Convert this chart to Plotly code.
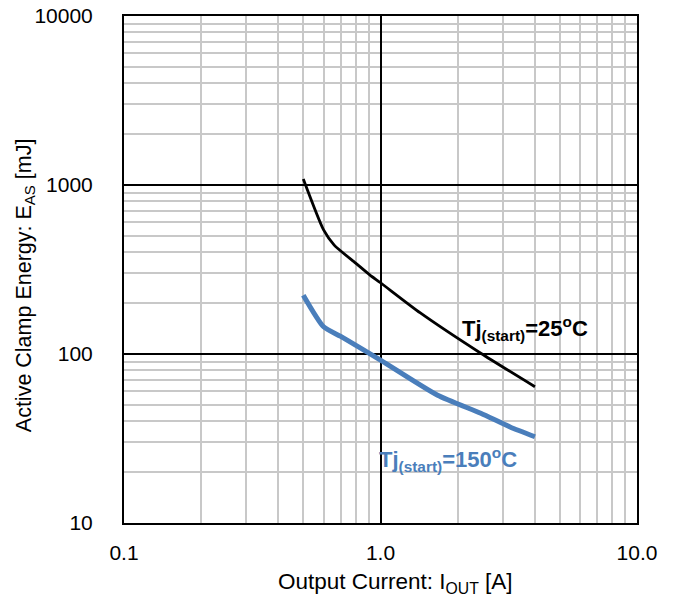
import plotly.graph_objects as go

# Data
current_25 = [0.5, 0.6, 0.66, 0.8, 0.91, 1.0, 1.43, 2.46, 4.0]
energy_25 = [1085, 542, 441, 345, 293, 264, 175, 101, 64]

current_150 = [0.5, 0.6, 0.7, 1.0, 1.67, 2.46, 3.2, 4.0]
energy_150 = [223, 145, 127, 92, 57, 44.6, 37, 32.4]

x_tickvals = [0.1, 1, 10]
x_ticktext = ["0.1", "1.0", "10.0"]
y_tickvals = [10, 100, 1000, 10000]
y_ticktext = ["10", "100", "1000", "10000"]

FONT = "Liberation Sans"
BLUE = "#4a7ebb"

fig = go.Figure()
fig.add_trace(go.Scatter(x=current_25, y=energy_25, mode="lines",
                         line=dict(color="black", width=2.8, shape="spline", smoothing=0.6),
                         showlegend=False))
fig.add_trace(go.Scatter(x=current_150, y=energy_150, mode="lines",
                         line=dict(color=BLUE, width=5, shape="spline", smoothing=0.6),
                         showlegend=False))

fig.add_annotation(x=0.31, y=2.148, xref="x", yref="y", xanchor="left", yanchor="middle",
                   text="<b>Tj<sub>(start)</sub>=25<sup>o</sup>C</b>", showarrow=False,
                   font=dict(family=FONT, size=22, color="black"))
fig.add_annotation(x=-0.015, y=1.373, xref="x", yref="y", xanchor="left", yanchor="middle",
                   text="<b>Tj<sub>(start)</sub>=150<sup>o</sup>C</b>", showarrow=False,
                   font=dict(family=FONT, size=22, color=BLUE))

# Axis titles
fig.add_annotation(x=0.530, y=-0.118, xref="paper", yref="paper", xanchor="center", yanchor="middle",
                   text="Output Current: I<sub>OUT</sub> [A]", showarrow=False,
                   font=dict(family=FONT, size=22.5, color="black"))
fig.add_annotation(x=-0.193, y=0.469, xref="paper", yref="paper", xanchor="center", yanchor="middle",
                   text="Active Clamp Energy: E<sub>AS</sub> [mJ]", showarrow=False, textangle=-90,
                   font=dict(family=FONT, size=21.5, color="black"))

axis_common = dict(
    type="log", automargin=False,
    showline=True, linecolor="black", linewidth=2, mirror=True,
    showgrid=True, gridcolor="black", gridwidth=1.5,
    ticks="", zeroline=False,
    tickfont=dict(family=FONT, size=21, color="black"),
    minor=dict(showgrid=True, gridcolor="#c8c8c8", gridwidth=1.5, dtick="D1", ticks=""),
)

fig.update_xaxes(**axis_common, range=[-1, 1], tickvals=x_tickvals, ticktext=x_ticktext,
                 ticklabelstandoff=10)
fig.update_yaxes(**axis_common, range=[1, 4], tickvals=y_tickvals, ticktext=y_ticktext,
                 ticklabelstandoff=25)

fig.update_layout(width=674, height=608,
                  margin=dict(l=124, r=37, t=16, b=85),
                  paper_bgcolor="white", plot_bgcolor="white")

fig.write_html("out.html", config={"displayModeBar": False},
               post_script="document.body.style.margin='0';")
